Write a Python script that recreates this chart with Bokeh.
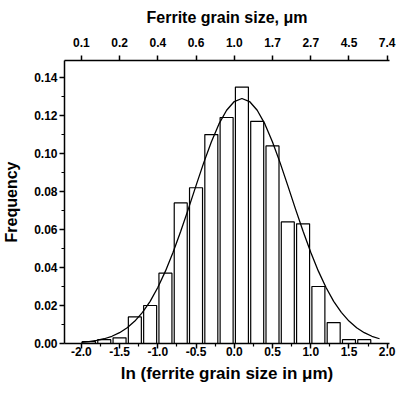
from bokeh.plotting import figure
from bokeh.models import Range1d, LinearAxis, FixedTicker, PrintfTickFormatter
from bokeh.embed import file_html
from bokeh.resources import INLINE

# Histogram bins (ln of ferrite grain size, um) and frequencies
bin_centers = [-1.9, -1.7, -1.5, -1.3, -1.1, -0.9, -0.7, -0.5, -0.3, -0.1,
               0.1, 0.3, 0.5, 0.7, 0.9, 1.1, 1.3, 1.5, 1.7]
frequency = [0.001, 0.002, 0.003, 0.014, 0.020, 0.037, 0.074, 0.082, 0.110, 0.119,
             0.135, 0.117, 0.104, 0.064, 0.063, 0.030, 0.011, 0.002, 0.002]

# Fitted curve
curve_x = [-2.0, -1.9, -1.8, -1.7, -1.6, -1.5, -1.4, -1.3, -1.2, -1.1,
           -1.0, -0.9, -0.8, -0.7, -0.6, -0.5, -0.4, -0.3, -0.2, -0.1,
           0.0, 0.1, 0.2, 0.3, 0.4, 0.5, 0.6, 0.7, 0.8, 0.9,
           1.0, 1.1, 1.2, 1.3, 1.4, 1.5, 1.6, 1.7, 1.8, 1.9]
curve_y = [0.0006, 0.0010, 0.0016, 0.0025, 0.0038, 0.0057, 0.0083, 0.0118, 0.0164, 0.0222,
           0.0295, 0.0381, 0.0480, 0.0591, 0.0709, 0.0831, 0.0951, 0.1061, 0.1156, 0.1228,
           0.1274, 0.1290, 0.1274, 0.1228, 0.1156, 0.1061, 0.0951, 0.0831, 0.0709, 0.0591,
           0.0480, 0.0381, 0.0295, 0.0222, 0.0164, 0.0118, 0.0083, 0.0057, 0.0038, 0.0025]

# Axis ticks
x_ticks = [-2.0, -1.5, -1.0, -0.5, 0.0, 0.5, 1.0, 1.5, 2.0]
x_minor = [-1.75, -1.25, -0.75, -0.25, 0.25, 0.75, 1.25, 1.75]
top_labels = ["0.1", "0.2", "0.4", "0.6", "1.0", "1.7", "2.7", "4.5", "7.4"]
y_ticks = [0.00, 0.02, 0.04, 0.06, 0.08, 0.10, 0.12, 0.14]
y_minor = [0.01, 0.03, 0.05, 0.07, 0.09, 0.11, 0.13]

FONT = "Liberation Sans"

p = figure(width=396, height=385, output_backend="svg", toolbar_location=None,
           x_range=Range1d(-2.22, 2.03), y_range=Range1d(0, 0.149),
           min_border_left=63, min_border_right=7, min_border_top=60, min_border_bottom=42)
p.grid.visible = False
p.outline_line_color = None
p.background_fill_color = "white"
p.border_fill_color = "white"

p.vbar(x=bin_centers, top=frequency, width=0.17, bottom=0,
       fill_color="white", line_color="black", line_width=1.2)
p.line(curve_x, curve_y, line_color="black", line_width=1.3)


def style(ax, title_size="16px"):
    ax.axis_line_color = "black"
    ax.axis_line_width = 1.5
    ax.major_tick_line_color = "black"
    ax.major_tick_line_width = 1.5
    ax.minor_tick_line_color = "black"
    ax.minor_tick_line_width = 1.2
    ax.major_tick_in = 0
    ax.major_tick_out = 5
    ax.minor_tick_in = 0
    ax.minor_tick_out = 3
    ax.major_label_text_font = FONT
    ax.major_label_text_font_style = "bold"
    ax.major_label_text_font_size = "12px"
    ax.major_label_text_color = "black"
    ax.axis_label_text_font = FONT
    ax.axis_label_text_font_style = "bold"
    ax.axis_label_text_font_size = title_size
    ax.axis_label_text_color = "black"


xa = p.xaxis[0]
style(xa, "17px")
xa.ticker = FixedTicker(ticks=x_ticks, minor_ticks=x_minor)
xa.formatter = PrintfTickFormatter(format="%.1f")
xa.axis_label = "ln (ferrite grain size in μm)"
xa.major_label_standoff = -2
xa.axis_label_standoff = 5

ya = p.yaxis[0]
style(ya)
ya.ticker = FixedTicker(ticks=y_ticks, minor_ticks=y_minor)
ya.formatter = PrintfTickFormatter(format="%.2f")
ya.axis_label = "Frequency"
ya.major_label_standoff = 2
ya.axis_label_standoff = 11

top = LinearAxis(ticker=FixedTicker(ticks=x_ticks),
                 major_label_overrides={t: l for t, l in zip(x_ticks, top_labels)},
                 axis_label="Ferrite grain size, μm")
style(top)
top.minor_tick_line_color = None
top.major_label_standoff = 9
top.axis_label_standoff = 9
p.add_layout(top, "above")

open("out.html", "w").write(file_html(p, INLINE))
